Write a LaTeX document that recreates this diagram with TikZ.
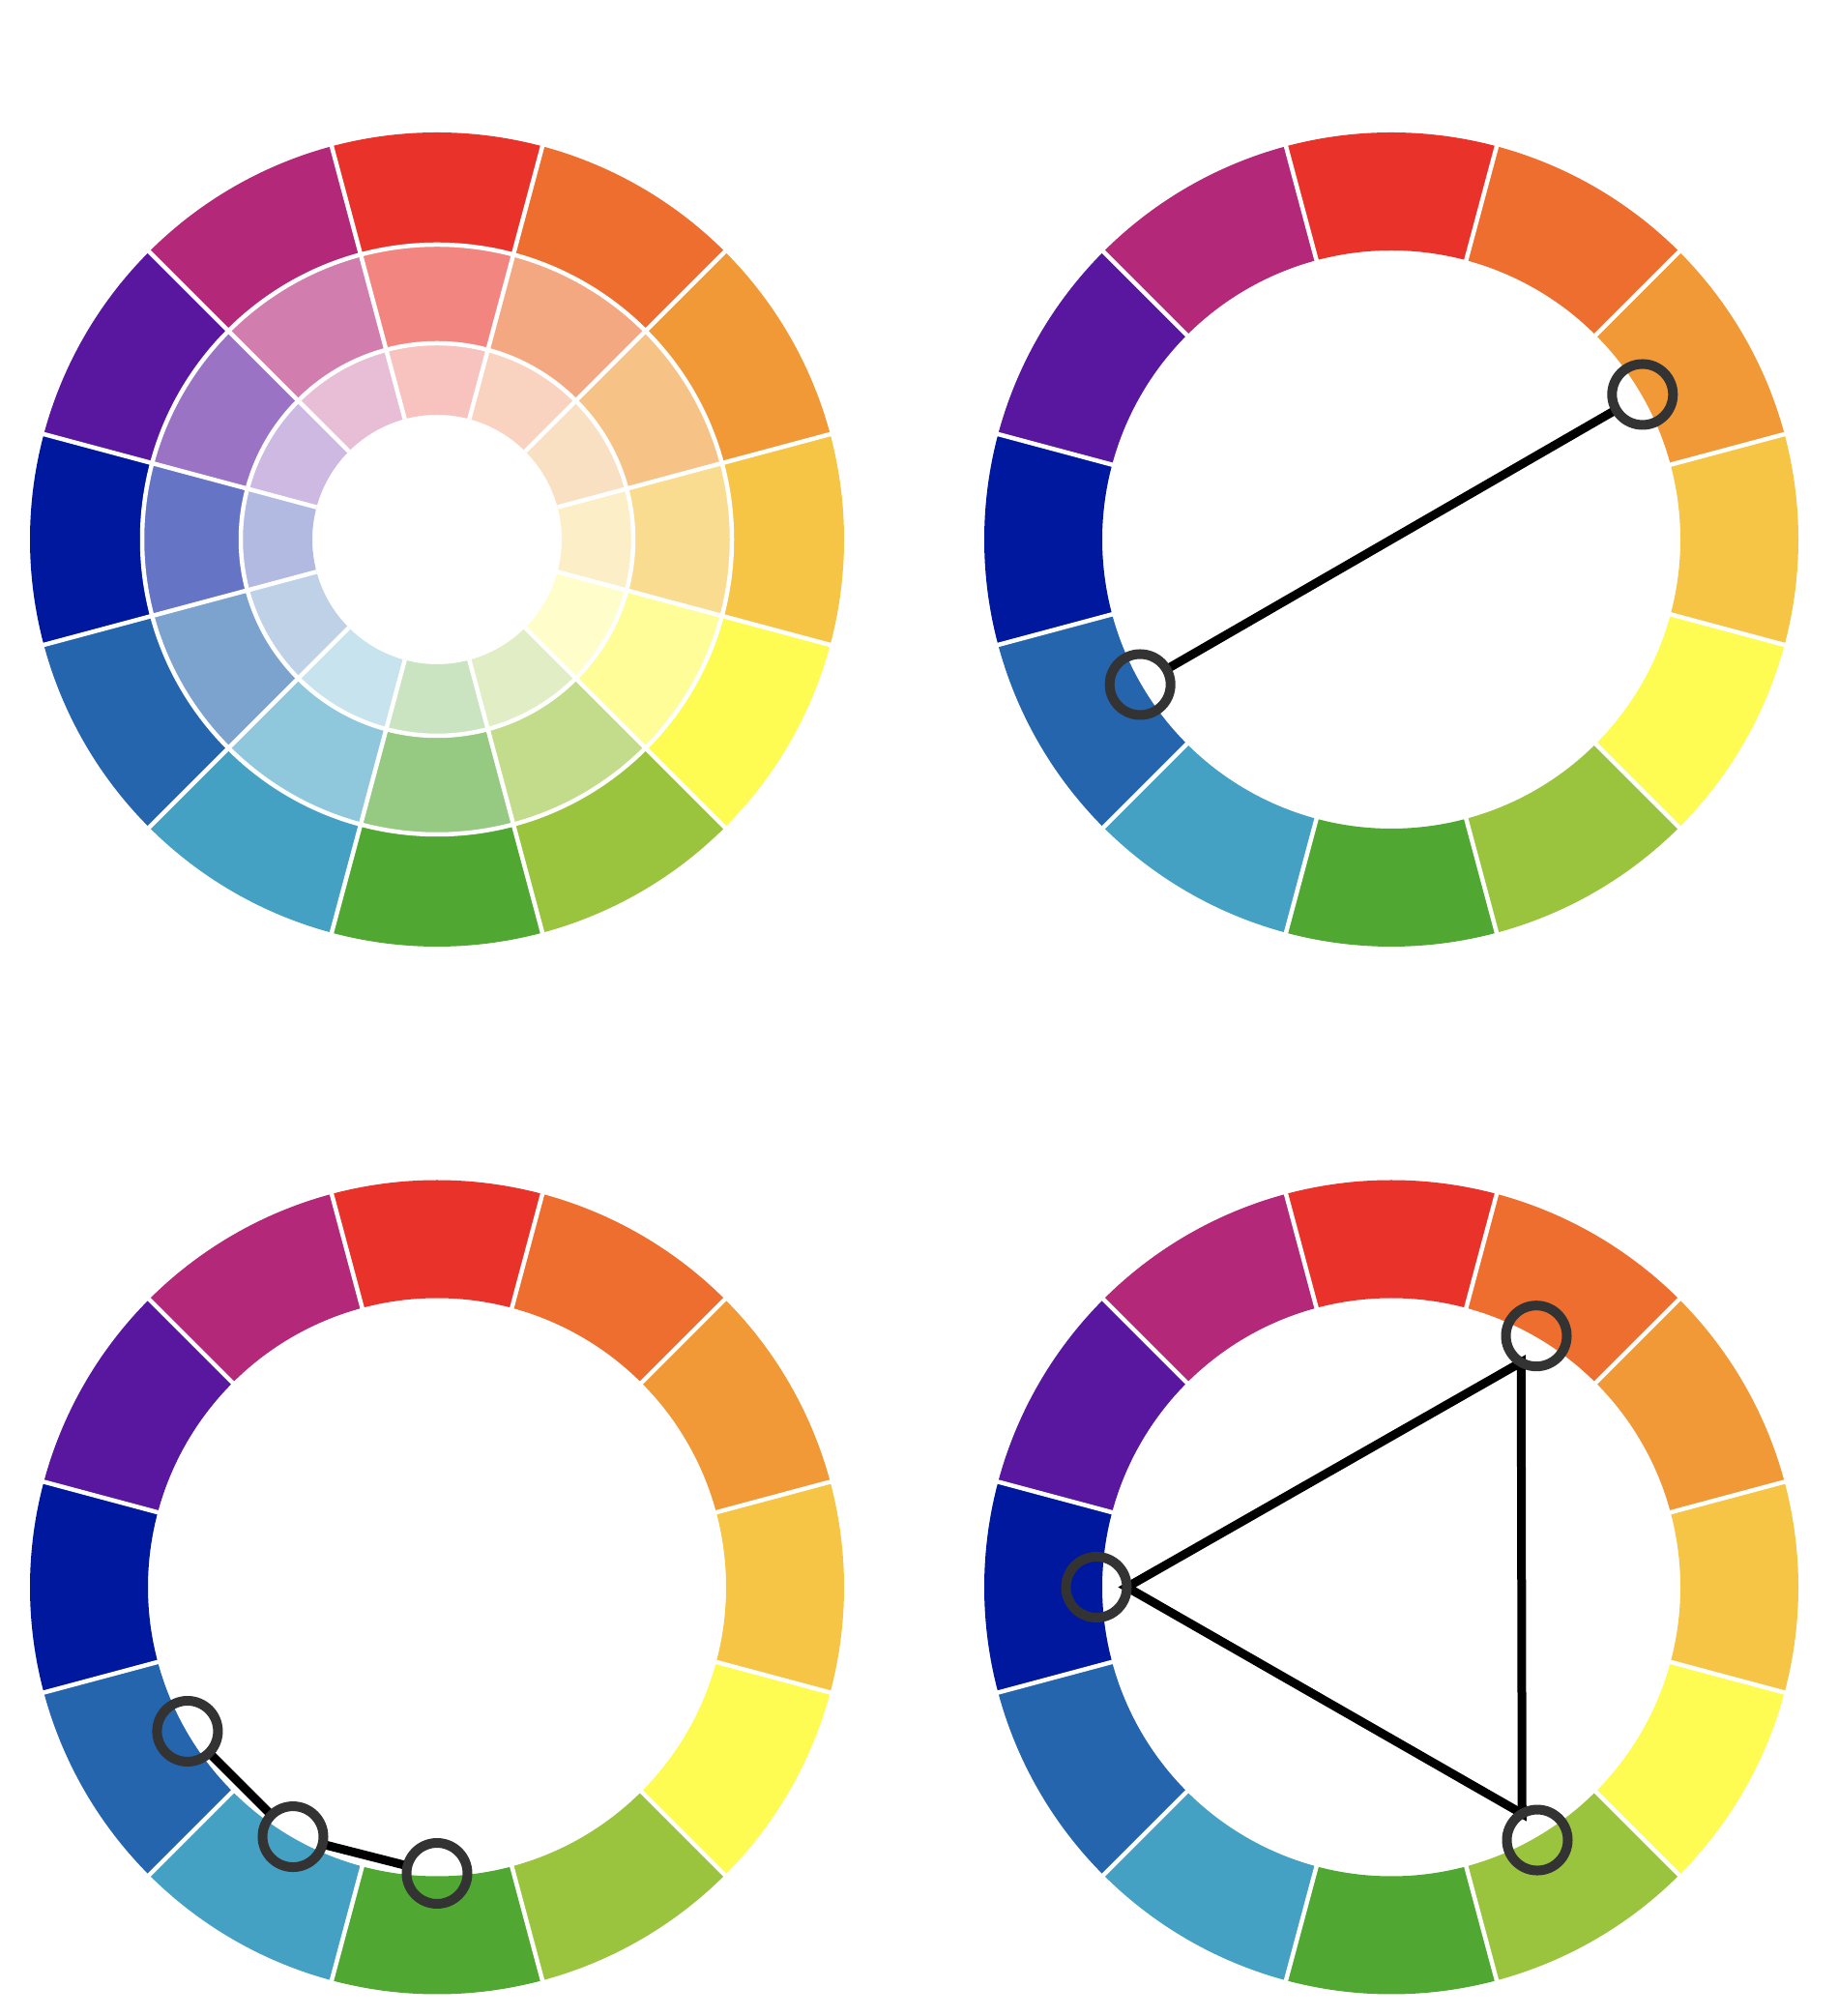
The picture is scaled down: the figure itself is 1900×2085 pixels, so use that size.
\documentclass[tikz,border=0pt]{standalone}
\usepackage{tikz}
\usepackage{xcolor}
\definecolor{hue0}{HTML}{E9332A}
\definecolor{hue1}{HTML}{ED6E2E}
\definecolor{hue2}{HTML}{F09936}
\definecolor{hue3}{HTML}{F6C546}
\definecolor{hue4}{HTML}{FEFB52}
\definecolor{hue5}{HTML}{9BC43E}
\definecolor{hue6}{HTML}{50A731}
\definecolor{hue7}{HTML}{44A1C4}
\definecolor{hue8}{HTML}{2565AE}
\definecolor{hue9}{HTML}{00189E}
\definecolor{hue10}{HTML}{59169F}
\definecolor{hue11}{HTML}{B32878}
\definecolor{pick}{HTML}{333333}
\pgfdeclarelayer{front}
\pgfsetlayers{main,front}
% twelve hue sectors, red on top; #1 tint, #2 inner and #3 outer radius
\newcommand{\huering}[3]{%
  \foreach \k in {0,...,11}{%
    \pgfmathsetmacro{\segang}{90-30*\k}%
    \fill[hue\k!#1!white] (\segang-15:#3) arc[start angle=\segang-15, end angle=\segang+15, radius=#3]
      -- (\segang+15:#2) arc[start angle=\segang+15, end angle=\segang-15, radius=#2] -- cycle;
  }}
\newcommand{\huespokes}[2]{%
  \foreach \k in {0,...,11}{\draw[spoke] ({15+30*\k}:#1) -- ({15+30*\k}:#2);}}

\begin{document}
\begin{tikzpicture}[
  x=0.2mm, y=0.2mm,
  spoke/.style={draw=white, line width=0.9mm},
  marker/.style={circle, draw=pick, line width=2mm, minimum size=12.6mm, inner sep=0pt, outer sep=0pt},
  link/.style={draw=black, line width=1.8mm}
]
\useasboundingbox (0,0) rectangle (1900,2085);
% full wheel with tints
\begin{scope}[shift={(452,1527)}]
  \huering{100}{305}{421}
  \huering{60}{203}{305}
  \huering{30}{129}{203}
  \huespokes{129}{425}
  \draw[spoke] (0,0) circle[radius=305] (0,0) circle[radius=203];
\end{scope}
% complementary
\begin{scope}[shift={(1439,1527)}]
  \huering{100}{299}{421}
  \huespokes{295}{425}
  \begin{pgfonlayer}{front}
    \node[marker] (comp1) at (210:300) {};
    \node[marker] (comp2) at (30:300) {};
  \end{pgfonlayer}
  \draw[link] (comp1) -- (comp2);
\end{scope}
% analogous
\begin{scope}[shift={(452,443.5)}]
  \huering{100}{299}{421}
  \huespokes{295}{425}
  \begin{pgfonlayer}{front}
    \node[marker] (ana1) at (210:298) {};
    \node[marker] (ana2) at (240:298) {};
    \node[marker] (ana3) at (270:296) {};
  \end{pgfonlayer}
  \draw[link] (ana1) -- (ana2);
  \draw[link] (ana2) -- (ana3);
\end{scope}
% triad
\begin{scope}[shift={(1439,443.5)}]
  \huering{100}{299}{421}
  \huespokes{295}{425}
  \begin{pgfonlayer}{front}
    \node[marker] (tri1) at (60:300) {};
    \node[marker] (tri2) at (180:305) {};
    \node[marker] (tri3) at (300:302) {};
  \end{pgfonlayer}
  \draw[link] (tri1.240) -- (tri2.east) -- (tri3.120) -- cycle;
\end{scope}
\end{tikzpicture}
\end{document}
